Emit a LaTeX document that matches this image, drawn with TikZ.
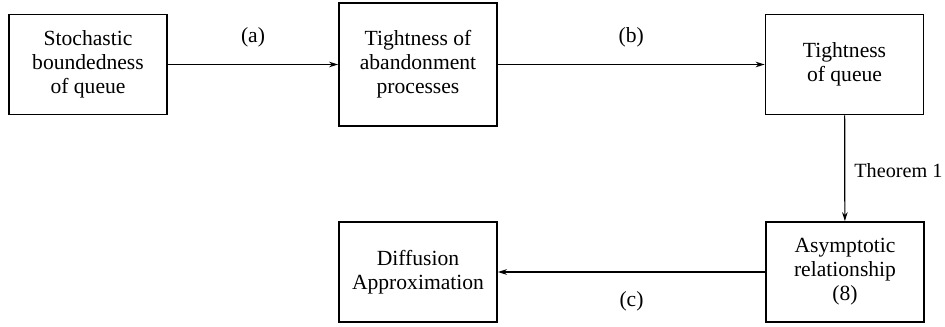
\documentclass[tikz,border=0pt]{standalone}
\usepackage{fontspec}
\setmainfont{Liberation Serif}
\usepackage{tikz}
\usetikzlibrary{arrows.meta}
\usetikzlibrary{positioning}

\begin{document}
\begin{tikzpicture}[
  x=0.5pt, y=-0.5pt,
  every node/.style={font=\fontsize{10.8}{12}\selectfont},
  stepbox/.style={draw, line width=0.9pt, align=center, inner sep=0pt,
    minimum width=79pt, minimum height=50pt},
  every path/.style={line width=0.6pt},
]
\tikzset{>={Stealth[length=4.5pt, width=2.8pt]}}
\useasboundingbox (0,0) rectangle (945,326);

% Nodes - top row
\node[stepbox] (stoch)   at (88,  64.5) {Stochastic\\boundedness\\of queue};
\node[stepbox, minimum height=61.5pt] (abandon) at (418, 64.5) {Tightness of\\abandonment\\processes};
\node[stepbox] (tightq)  at (844.5, 64.5) {Tightness\\of queue};

% Nodes - bottom row
\node[stepbox] (diff)    at (418, 272) {Diffusion\\Approximation};
\node[stepbox] (asym)    at (845, 272) {Asymptotic\\relationship\\(8)};

% Edges
\draw[->] (stoch)   -- node[above=5pt] {(a)} (abandon);
\draw[->] (abandon) -- node[above=5pt] {(b)} (tightq);
\draw[->] (tightq)  -- node[right=4.5pt, inner sep=0pt, yshift=-1pt,
  font=\fontsize{10.1}{12}\selectfont] {Theorem 1} (asym);
\draw[->] (asym)    -- node[below=6pt] {(c)} (diff);

\end{tikzpicture}
\end{document}
